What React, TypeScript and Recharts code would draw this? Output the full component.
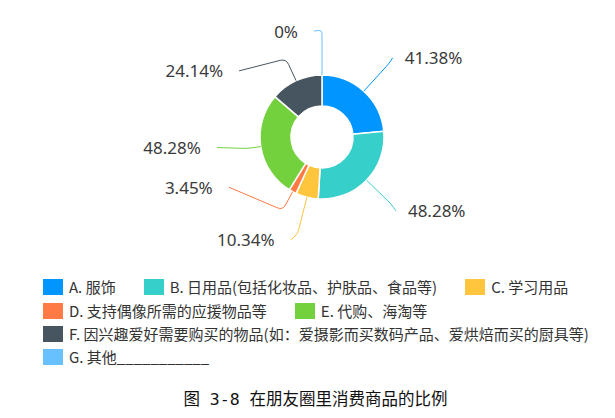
import React from "react";
import { PieChart, Pie, Cell, Legend } from "recharts";

const categories = [
  "A. 服饰",
  "B. 日用品(包括化妆品、护肤品、食品等)",
  "C. 学习用品",
  "D. 支持偶像所需的应援物品等",
  "E. 代购、海淘等",
  "F. 因兴趣爱好需要购买的物品(如：爱摄影而买数码产品、爱烘焙而买的厨具等)",
  "G. 其他___________",
];
const shares = [41.38, 48.28, 10.34, 3.45, 48.28, 24.14, 0];
const colors = ["#0095ff", "#36cfc9", "#ffc53d", "#ff7a45", "#73d13d", "#465560", "#69c0ff"];

// leader line layout: radial reach past the ring, then a sideways run to the text
const labelReach = [37, 34, 38, 21, 13, 24, 45];
const labelShiftX = [4, 5, -7, -54, -31, -47, -8];
const labelShiftY = [-6, 7, 6, -23, -1, 12, 1];

const title = "图 3-8 在朋友圈里消费商品的比例";

const data = categories.map((name, i) => ({ name, value: shares[i] }));

const RADIAN = Math.PI / 180;

const renderLabel = (props: any) => {
  const { cx, cy, midAngle, outerRadius, index, value } = props;
  const cos = Math.cos(-midAngle * RADIAN);
  const sin = Math.sin(-midAngle * RADIAN);
  const sx = cx + outerRadius * cos;
  const sy = cy + outerRadius * sin;
  const r2 = outerRadius + labelReach[index];
  const mx = cx + r2 * cos;
  const my = cy + r2 * sin;
  const ex = mx + labelShiftX[index];
  const ey = my + labelShiftY[index];
  const side = labelShiftX[index] >= 0 ? 1 : -1;

  const l1 = Math.hypot(mx - sx, my - sy);
  const l2 = Math.hypot(ex - mx, ey - my);
  const k = Math.min(6, l1 / 2, l2 / 2);
  const ax = mx - ((mx - sx) / l1) * k;
  const ay = my - ((my - sy) / l1) * k;
  const bx = mx + ((ex - mx) / l2) * k;
  const by = my + ((ey - my) / l2) * k;
  const color = colors[index];

  return (
    <g key={`label-${index}`}>
      <path
        d={`M${sx},${sy}L${ax},${ay}Q${mx},${my} ${bx},${by}L${ex},${ey}`}
        stroke={color}
        strokeWidth={1}
        fill="none"
      />
      <text
        x={ex + side * (side > 0 ? 12 : 16)}
        y={ey}
        textAnchor={side > 0 ? "start" : "end"}
        dominantBaseline="central"
        fill="#3a3a3a"
        fontSize={17}
        fontFamily="'Noto Sans', sans-serif"
      >
        {`${value}%`}
      </text>
    </g>
  );
};

const renderLegend = (props: any) => {
  const payload = props.payload || [];
  return (
    <div
      style={{
        display: "flex",
        flexWrap: "wrap",
        columnGap: 28,
        fontFamily: "'Noto Sans CJK SC', sans-serif",
        fontSize: 15,
        color: "#333",
      }}
    >
      {payload.map((entry: any, i: number) => (
        <div key={`legend-${i}`} style={{ display: "flex", alignItems: "center", height: 23.3 }}>
          <span
            style={{
              display: "inline-block",
              width: 20,
              height: 16,
              background: colors[i] || entry.color,
              marginRight: 6,
            }}
          />
          <span style={{ whiteSpace: "nowrap", lineHeight: "16px" }}>{entry.value}</span>
        </div>
      ))}
    </div>
  );
};

export default function App() {
  return (
    <div style={{ position: "absolute", left: 0, top: 0, width: 615, height: 418, background: "#fff" }}>
      <PieChart width={615} height={418}>
        <Pie
          data={data}
          dataKey="value"
          nameKey="name"
          cx={317}
          cy={132}
          innerRadius={31}
          outerRadius={62}
          startAngle={90}
          endAngle={-270}
          stroke="#fff"
          strokeWidth={1.5}
          label={renderLabel}
          labelLine={false}
          isAnimationActive={false}
        >
          {data.map((entry, i) => (
            <Cell key={`cell-${i}`} fill={colors[i]} />
          ))}
        </Pie>
        <Legend
          content={renderLegend}
          wrapperStyle={{ position: "absolute", left: 43, top: 275.6, width: 570 }}
        />
      </PieChart>
      <div
        style={{
          position: "absolute",
          left: 8,
          top: 390,
          width: 615,
          textAlign: "center",
          lineHeight: "20px",
          fontSize: 16.5,
          color: "#111",
          fontFamily: "'DejaVu Sans Mono', 'Noto Sans CJK SC', monospace",
        }}
      >
        {title}
      </div>
    </div>
  );
}
